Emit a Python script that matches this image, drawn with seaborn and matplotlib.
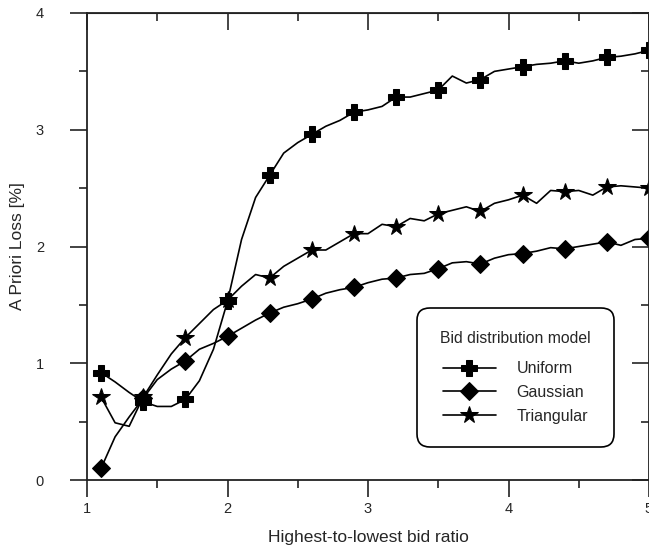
import numpy as np
import pandas as pd
import seaborn as sns
import matplotlib.pyplot as plt
from matplotlib.ticker import MultipleLocator

# bid ratio (highest / lowest)
ratio = [1.1, 1.2, 1.3, 1.4, 1.5, 1.6, 1.7, 1.8, 1.9, 2.0,
         2.1, 2.2, 2.3, 2.4, 2.5, 2.6, 2.7, 2.8, 2.9, 3.0,
         3.1, 3.2, 3.3, 3.4, 3.5, 3.6, 3.7, 3.8, 3.9, 4.0,
         4.1, 4.2, 4.3, 4.4, 4.5, 4.6, 4.7, 4.8, 4.9, 5.0]

uniform = [0.92, 0.84, 0.75, 0.67, 0.63, 0.63, 0.69, 0.85, 1.12, 1.53,
           2.06, 2.42, 2.61, 2.80, 2.89, 2.96, 3.03, 3.08, 3.15, 3.17,
           3.20, 3.28, 3.28, 3.31, 3.34, 3.46, 3.40, 3.43, 3.50, 3.52,
           3.54, 3.56, 3.57, 3.59, 3.57, 3.59, 3.62, 3.63, 3.65, 3.68]

gaussian = [0.10, 0.37, 0.54, 0.70, 0.86, 0.95, 1.02, 1.12, 1.17, 1.23,
            1.30, 1.37, 1.43, 1.48, 1.51, 1.55, 1.60, 1.63, 1.65, 1.69,
            1.72, 1.73, 1.76, 1.77, 1.81, 1.86, 1.87, 1.85, 1.90, 1.93,
            1.94, 1.96, 1.99, 1.98, 2.00, 2.02, 2.04, 2.01, 2.06, 2.07]

triangular = [0.71, 0.49, 0.46, 0.71, 0.90, 1.08, 1.22, 1.34, 1.46, 1.54,
              1.66, 1.76, 1.73, 1.83, 1.90, 1.97, 1.97, 2.04, 2.11, 2.11,
              2.19, 2.17, 2.24, 2.22, 2.28, 2.31, 2.34, 2.30, 2.37, 2.40,
              2.44, 2.37, 2.48, 2.47, 2.48, 2.44, 2.51, 2.52, 2.51, 2.50]

series_names = ['Uniform', 'Gaussian', 'Triangular']
series_markers = {'Uniform': 'P', 'Gaussian': 'D', 'Triangular': '*'}
series_msize = {'Uniform': 11, 'Gaussian': 9, 'Triangular': 13}

df = pd.DataFrame({'ratio': ratio, 'Uniform': uniform,
                   'Gaussian': gaussian, 'Triangular': triangular})

sns.set_style("ticks")
plt.rcParams['font.family'] = ['Liberation Sans', 'DejaVu Sans']

fig = plt.figure(figsize=(6.49, 5.51), dpi=100)
ax = fig.add_axes([87 / 649, 1 - 480 / 551, 562 / 649, 467 / 551])

for name in series_names:
    sns.lineplot(x='ratio', y=name, data=df, ax=ax, color='black',
                 linewidth=1.2, marker=series_markers[name],
                 markersize=series_msize[name], markevery=3,
                 markeredgecolor='black', label=name)

ax.set_xlim(1, 5)
ax.set_ylim(0, 4)
ax.xaxis.set_major_locator(MultipleLocator(1))
ax.xaxis.set_minor_locator(MultipleLocator(0.5))
ax.yaxis.set_major_locator(MultipleLocator(1))
ax.yaxis.set_minor_locator(MultipleLocator(0.5))

for sp in ax.spines.values():
    sp.set_linewidth(1.3)
    sp.set_color('#222222')
    sp.set_visible(True)

ax.tick_params(which='major', direction='out', length=12, width=1.2,
               labelsize=10.5, pad=4, color='#222222')
ax.tick_params(which='minor', direction='out', length=6, width=1.2,
               color='#222222')
ax.tick_params(axis='y', which='major', pad=19)

# top / right ticks point inwards
top = ax.secondary_xaxis('top')
top.xaxis.set_major_locator(MultipleLocator(1))
top.xaxis.set_minor_locator(MultipleLocator(0.5))
top.tick_params(which='major', direction='in', length=12, width=1.2, labeltop=False)
top.tick_params(which='minor', direction='in', length=6, width=1.2)
right = ax.secondary_yaxis('right')
right.yaxis.set_major_locator(MultipleLocator(1))
right.yaxis.set_minor_locator(MultipleLocator(0.5))
right.tick_params(which='major', direction='in', length=12, width=1.2, labelright=False)
right.tick_params(which='minor', direction='in', length=6, width=1.2)

ax.set_xlabel('Highest-to-lowest bid ratio', fontsize=12.5, labelpad=10)
ax.set_ylabel('A Priori Loss [%]', fontsize=12.5, labelpad=8)

leg = ax.legend(title='Bid distribution model', loc='lower left',
                bbox_to_anchor=(0.587, 0.071), fontsize=11.5,
                title_fontsize=11.3, frameon=True, fancybox=True,
                handlelength=3.3, borderpad=1.45, labelspacing=0.55,
                handletextpad=1.3, borderaxespad=0, numpoints=1)
frame = leg.get_frame()
frame.set_edgecolor('black')
frame.set_linewidth(1.2)
frame.set_alpha(1)
frame.set_boxstyle('round,pad=0,rounding_size=0.8')
leg._legend_box.sep = 11

fig.savefig('out.png', dpi=100)
